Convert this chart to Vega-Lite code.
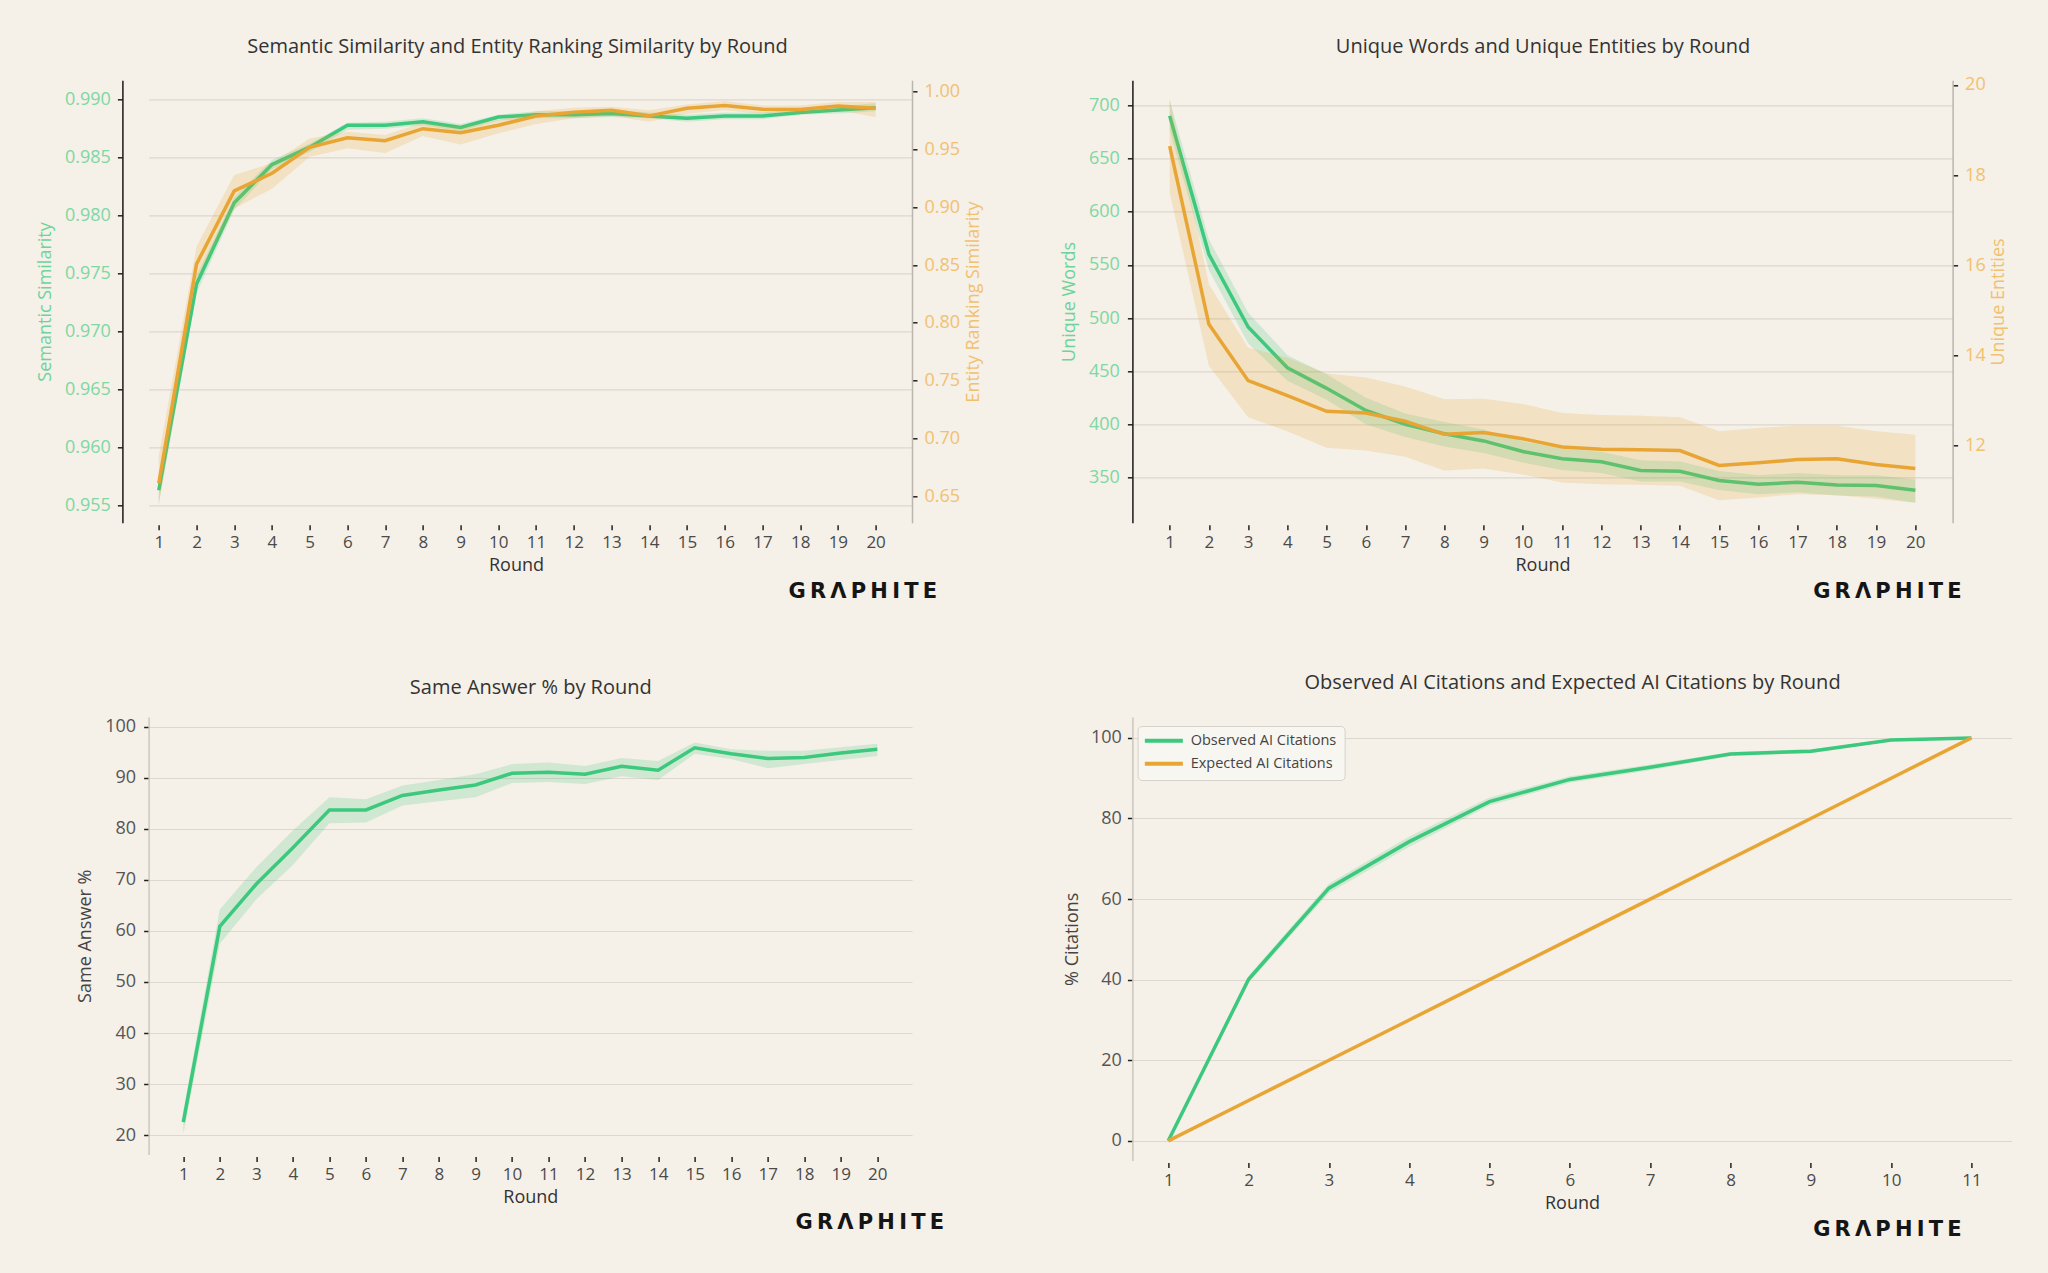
{
  "$schema": "https://vega.github.io/schema/vega-lite/v6.json",
  "autosize": {"type": "none"},
  "padding": {"left": 148.6, "top": 80.3, "right": 1899.4, "bottom": 1192.7},
  "background": "#f5f0e8",
  "columns": 2,
  "bounds": "flush",
  "spacing": {"row": 193.7, "column": 219.8},
  "resolve": {"scale": {"color": "independent"}, "legend": {"color": "independent"}},
  "datasets": {
    "tl": [
      {"round": 1, "sem": 0.9563, "sem_lo": 0.9551, "sem_hi": 0.9575, "ers": 0.6612, "ers_lo": 0.643, "ers_hi": 0.685},
      {"round": 2, "sem": 0.9741, "sem_lo": 0.9733, "sem_hi": 0.9748, "ers": 0.8509, "ers_lo": 0.837, "ers_hi": 0.866},
      {"round": 3, "sem": 0.9811, "sem_lo": 0.9805, "sem_hi": 0.9816, "ers": 0.9141, "ers_lo": 0.899, "ers_hi": 0.928},
      {"round": 4, "sem": 0.9844, "sem_lo": 0.984, "sem_hi": 0.9848, "ers": 0.9294, "ers_lo": 0.916, "ers_hi": 0.938},
      {"round": 5, "sem": 0.9859, "sem_lo": 0.9855, "sem_hi": 0.9862, "ers": 0.9518, "ers_lo": 0.9438, "ers_hi": 0.9596},
      {"round": 6, "sem": 0.9878, "sem_lo": 0.9874, "sem_hi": 0.988, "ers": 0.9602, "ers_lo": 0.951, "ers_hi": 0.9654},
      {"round": 7, "sem": 0.9878, "sem_lo": 0.9875, "sem_hi": 0.9881, "ers": 0.9576, "ers_lo": 0.947, "ers_hi": 0.9625},
      {"round": 8, "sem": 0.9881, "sem_lo": 0.9878, "sem_hi": 0.9884, "ers": 0.968, "ers_lo": 0.9616, "ers_hi": 0.9732},
      {"round": 9, "sem": 0.9876, "sem_lo": 0.9873, "sem_hi": 0.9879, "ers": 0.9645, "ers_lo": 0.9544, "ers_hi": 0.9697},
      {"round": 10, "sem": 0.9885, "sem_lo": 0.9882, "sem_hi": 0.9887, "ers": 0.9709, "ers_lo": 0.964, "ers_hi": 0.9755},
      {"round": 11, "sem": 0.9887, "sem_lo": 0.9884, "sem_hi": 0.989, "ers": 0.979, "ers_lo": 0.972, "ers_hi": 0.983},
      {"round": 12, "sem": 0.9887, "sem_lo": 0.9884, "sem_hi": 0.989, "ers": 0.9822, "ers_lo": 0.977, "ers_hi": 0.986},
      {"round": 13, "sem": 0.9888, "sem_lo": 0.9885, "sem_hi": 0.9891, "ers": 0.9839, "ers_lo": 0.979, "ers_hi": 0.987},
      {"round": 14, "sem": 0.9886, "sem_lo": 0.9884, "sem_hi": 0.9889, "ers": 0.9791, "ers_lo": 0.974, "ers_hi": 0.984},
      {"round": 15, "sem": 0.9884, "sem_lo": 0.9881, "sem_hi": 0.9887, "ers": 0.9856, "ers_lo": 0.981, "ers_hi": 0.989},
      {"round": 16, "sem": 0.9886, "sem_lo": 0.9883, "sem_hi": 0.9889, "ers": 0.988, "ers_lo": 0.984, "ers_hi": 0.992},
      {"round": 17, "sem": 0.9886, "sem_lo": 0.9883, "sem_hi": 0.9889, "ers": 0.9849, "ers_lo": 0.981, "ers_hi": 0.988},
      {"round": 18, "sem": 0.9889, "sem_lo": 0.9887, "sem_hi": 0.9892, "ers": 0.9846, "ers_lo": 0.981, "ers_hi": 0.988},
      {"round": 19, "sem": 0.9891, "sem_lo": 0.9888, "sem_hi": 0.9894, "ers": 0.9877, "ers_lo": 0.984, "ers_hi": 0.991},
      {"round": 20, "sem": 0.9893, "sem_lo": 0.989, "sem_hi": 0.9897, "ers": 0.9856, "ers_lo": 0.978, "ers_hi": 0.991}
    ],
    "tr": [
      {"round": 1, "words": 690.3, "w_lo": 677, "w_hi": 705, "ent": 18.64, "e_lo": 17.6, "e_hi": 19.69},
      {"round": 2, "words": 560, "w_lo": 545, "w_hi": 574, "ent": 14.69, "e_lo": 13.77, "e_hi": 15.57},
      {"round": 3, "words": 491.5, "w_lo": 476, "w_hi": 505, "ent": 13.44, "e_lo": 12.63, "e_hi": 14.17},
      {"round": 4, "words": 453.2, "w_lo": 441, "w_hi": 465, "ent": 13.11, "e_lo": 12.32, "e_hi": 13.95},
      {"round": 5, "words": 433.8, "w_lo": 423, "w_hi": 447, "ent": 12.76, "e_lo": 11.95, "e_hi": 13.6},
      {"round": 6, "words": 413, "w_lo": 400, "w_hi": 425, "ent": 12.72, "e_lo": 11.89, "e_hi": 13.51},
      {"round": 7, "words": 400, "w_lo": 388, "w_hi": 410, "ent": 12.54, "e_lo": 11.75, "e_hi": 13.31},
      {"round": 8, "words": 391, "w_lo": 379, "w_hi": 402, "ent": 12.25, "e_lo": 11.45, "e_hi": 13.03},
      {"round": 9, "words": 384.3, "w_lo": 373, "w_hi": 395, "ent": 12.29, "e_lo": 11.49, "e_hi": 13.04},
      {"round": 10, "words": 374.3, "w_lo": 364, "w_hi": 384, "ent": 12.15, "e_lo": 11.36, "e_hi": 12.92},
      {"round": 11, "words": 367.6, "w_lo": 357, "w_hi": 377, "ent": 11.97, "e_lo": 11.18, "e_hi": 12.72},
      {"round": 12, "words": 364.6, "w_lo": 354, "w_hi": 374, "ent": 11.92, "e_lo": 11.14, "e_hi": 12.68},
      {"round": 13, "words": 356.4, "w_lo": 346, "w_hi": 366, "ent": 11.91, "e_lo": 11.13, "e_hi": 12.66},
      {"round": 14, "words": 355.7, "w_lo": 346, "w_hi": 365, "ent": 11.89, "e_lo": 11.11, "e_hi": 12.63},
      {"round": 15, "words": 347.1, "w_lo": 338, "w_hi": 356, "ent": 11.56, "e_lo": 10.79, "e_hi": 12.32},
      {"round": 16, "words": 343.4, "w_lo": 334, "w_hi": 352, "ent": 11.62, "e_lo": 10.85, "e_hi": 12.39},
      {"round": 17, "words": 345.3, "w_lo": 336, "w_hi": 354, "ent": 11.69, "e_lo": 10.92, "e_hi": 12.44},
      {"round": 18, "words": 342.7, "w_lo": 333, "w_hi": 352, "ent": 11.71, "e_lo": 10.9, "e_hi": 12.44},
      {"round": 19, "words": 342.3, "w_lo": 332, "w_hi": 352, "ent": 11.58, "e_lo": 10.82, "e_hi": 12.32},
      {"round": 20, "words": 337.8, "w_lo": 326, "w_hi": 348, "ent": 11.49, "e_lo": 10.73, "e_hi": 12.24}
    ],
    "bl": [
      {"round": 1, "same": 22.55, "lo": 20.2, "hi": 24.7},
      {"round": 2, "same": 60.9, "lo": 57.5, "hi": 64.2},
      {"round": 3, "same": 69.2, "lo": 66.2, "hi": 72.5},
      {"round": 4, "same": 76.3, "lo": 72.9, "hi": 79.7},
      {"round": 5, "same": 83.7, "lo": 81.1, "hi": 86.2},
      {"round": 6, "same": 83.7, "lo": 81.25, "hi": 85.8},
      {"round": 7, "same": 86.55, "lo": 84.6, "hi": 88.5},
      {"round": 8, "same": 87.6, "lo": 85.4, "hi": 89.6},
      {"round": 9, "same": 88.6, "lo": 86.2, "hi": 90.7},
      {"round": 10, "same": 90.9, "lo": 89.0, "hi": 92.7},
      {"round": 11, "same": 91.1, "lo": 89.2, "hi": 93.0},
      {"round": 12, "same": 90.7, "lo": 88.8, "hi": 92.3},
      {"round": 13, "same": 92.25, "lo": 90.3, "hi": 93.9},
      {"round": 14, "same": 91.5, "lo": 89.6, "hi": 93.3},
      {"round": 15, "same": 95.9, "lo": 94.7, "hi": 96.9},
      {"round": 16, "same": 94.7, "lo": 93.7, "hi": 95.6},
      {"round": 17, "same": 93.8, "lo": 91.9, "hi": 95.3},
      {"round": 18, "same": 94.0, "lo": 92.7, "hi": 95.3},
      {"round": 19, "same": 94.85, "lo": 93.5, "hi": 96.0},
      {"round": 20, "same": 95.6, "lo": 94.3, "hi": 96.7}
    ],
    "br_band": [
      {"round": 1, "lo": 0, "hi": 0.3},
      {"round": 2, "lo": 39.3, "hi": 41.0},
      {"round": 3, "lo": 61.5, "hi": 63.8},
      {"round": 4, "lo": 73.0, "hi": 75.5},
      {"round": 5, "lo": 83.2, "hi": 85.2},
      {"round": 6, "lo": 88.9, "hi": 90.5},
      {"round": 7, "lo": 92.0, "hi": 93.4},
      {"round": 8, "lo": 95.5, "hi": 96.5},
      {"round": 9, "lo": 96.2, "hi": 97.2},
      {"round": 10, "lo": 99.2, "hi": 99.8},
      {"round": 11, "lo": 100, "hi": 100}
    ],
    "br_lines": [
      {"round": 1, "series": "Observed AI Citations", "pct": 0},
      {"round": 2, "series": "Observed AI Citations", "pct": 40.1},
      {"round": 3, "series": "Observed AI Citations", "pct": 62.7},
      {"round": 4, "series": "Observed AI Citations", "pct": 74.25},
      {"round": 5, "series": "Observed AI Citations", "pct": 84.2},
      {"round": 6, "series": "Observed AI Citations", "pct": 89.7},
      {"round": 7, "series": "Observed AI Citations", "pct": 92.7},
      {"round": 8, "series": "Observed AI Citations", "pct": 96.0},
      {"round": 9, "series": "Observed AI Citations", "pct": 96.7},
      {"round": 10, "series": "Observed AI Citations", "pct": 99.5},
      {"round": 11, "series": "Observed AI Citations", "pct": 100},
      {"round": 1, "series": "Expected AI Citations", "pct": 0},
      {"round": 2, "series": "Expected AI Citations", "pct": 10},
      {"round": 3, "series": "Expected AI Citations", "pct": 20},
      {"round": 4, "series": "Expected AI Citations", "pct": 30},
      {"round": 5, "series": "Expected AI Citations", "pct": 40},
      {"round": 6, "series": "Expected AI Citations", "pct": 50},
      {"round": 7, "series": "Expected AI Citations", "pct": 60},
      {"round": 8, "series": "Expected AI Citations", "pct": 70},
      {"round": 9, "series": "Expected AI Citations", "pct": 80},
      {"round": 10, "series": "Expected AI Citations", "pct": 90},
      {"round": 11, "series": "Expected AI Citations", "pct": 100}
    ]
  },
  "concat": [
    {
      "width": 763.4,
      "height": 442.4,
      "title": {"text": "G\u2009R\u2009\u039b\u2009P\u2009H\u2009I\u2009T\u2009E", "dx": 25},
      "data": {"name": "tl"},
      "encoding": {
        "x": {"field": "round", "type": "quantitative", "scale": {"domain": [0.7296, 20.965], "nice": false, "zero": false},
          "axis": {"values": [1,2,3,4,5,6,7,8,9,10,11,12,13,14,15,16,17,18,19,20], "format": "d", "title": "Round", "titleX": 367.4, "domain": false, "grid": false, "offset": 2, "labelPadding": 5, "labelFontSize": 17, "labelColor": "#4a4a4a", "titleFontSize": 18, "titleColor": "#333333", "titlePadding": 6}}
      },
      "layer": [
        {
          "layer": [
            {"mark": {"type": "area", "color": "#3cc87d", "opacity": 0.2},
             "encoding": {"y": {"field": "sem_lo", "type": "quantitative", "scale": {"domain": [0.9535, 0.99167], "nice": false, "zero": false},
               "axis": {"orient": "left", "values": [0.955, 0.96, 0.965, 0.97, 0.975, 0.98, 0.985, 0.99], "format": ".3f", "title": "Semantic Similarity", "offset": 26.2, "grid": true, "domainColor": "#1a1a1a", "labelColor": "#7dd8a3", "titleColor": "#6dd49a", "labelFontSize": 18, "titleFontSize": 18, "labelPadding": 7, "titlePadding": 10}},
               "y2": {"field": "sem_hi"}}},
            {"mark": {"type": "line", "color": "#3cc87d", "strokeWidth": 3.5},
             "encoding": {"y": {"field": "sem", "type": "quantitative", "scale": {"domain": [0.9535, 0.99167], "nice": false, "zero": false},
               "axis": {"orient": "left", "values": [0.955, 0.96, 0.965, 0.97, 0.975, 0.98, 0.985, 0.99], "format": ".3f", "title": "Semantic Similarity", "offset": 26.2, "grid": true, "domainColor": "#1a1a1a", "labelColor": "#7dd8a3", "titleColor": "#6dd49a", "labelFontSize": 18, "titleFontSize": 18, "labelPadding": 7, "titlePadding": 10}}}}
          ]
        },
        {
          "encoding": {
            "x": {"field": "round", "type": "quantitative", "scale": {"domain": [0.7296, 20.965], "nice": false, "zero": false},
              "axis": {"orient": "top", "title": "Semantic Similarity and Entity Ranking Similarity by Round", "titleX": 368.4, "labels": false, "ticks": false, "domain": false, "grid": false, "minExtent": 0, "titleFontSize": 20, "titleColor": "#333333", "titlePadding": 23.5}}
          },
          "layer": [
            {"mark": {"type": "area", "color": "#e8a534", "opacity": 0.2},
             "encoding": {"y": {"field": "ers_lo", "type": "quantitative", "scale": {"domain": [0.627, 1.00986], "nice": false, "zero": false},
               "axis": {"orient": "right", "values": [0.65, 0.7, 0.75, 0.8, 0.85, 0.9, 0.95, 1.0], "format": ".2f", "title": "Entity Ranking Similarity", "grid": false, "domainColor": "#bab6ae", "labelColor": "#f1c170", "titleColor": "#f1c170", "labelFontSize": 18, "titleFontSize": 18, "labelPadding": 7, "titlePadding": 5, "titleAngle": 270, "titleBaseline": "top"}},
               "y2": {"field": "ers_hi"}}},
            {"mark": {"type": "line", "color": "#e8a534", "strokeWidth": 3.5},
             "encoding": {"y": {"field": "ers", "type": "quantitative", "scale": {"domain": [0.627, 1.00986], "nice": false, "zero": false},
               "axis": {"orient": "right", "values": [0.65, 0.7, 0.75, 0.8, 0.85, 0.9, 0.95, 1.0], "format": ".2f", "title": "Entity Ranking Similarity", "grid": false, "domainColor": "#bab6ae", "labelColor": "#f1c170", "titleColor": "#f1c170", "labelFontSize": 18, "titleFontSize": 18, "labelPadding": 7, "titlePadding": 5, "titleAngle": 270, "titleBaseline": "top"}}}}
          ]
        }
      ],
      "resolve": {"scale": {"y": "independent"}, "axis": {"x": "independent"}}
    },
    {
      "width": 820.2,
      "height": 442.4,
      "title": {"text": "G\u2009R\u2009\u039b\u2009P\u2009H\u2009I\u2009T\u2009E", "dx": 9},
      "data": {"name": "tr"},
      "encoding": {
        "x": {"field": "round", "type": "quantitative", "scale": {"domain": [0.05, 20.95], "nice": false, "zero": false},
          "axis": {"values": [1,2,3,4,5,6,7,8,9,10,11,12,13,14,15,16,17,18,19,20], "format": "d", "title": "Round", "domain": false, "grid": false, "offset": 2, "labelPadding": 5, "labelFontSize": 17, "labelColor": "#4a4a4a", "titleFontSize": 18, "titleColor": "#333333", "titlePadding": 6}}
      },
      "layer": [
        {
          "layer": [
            {"mark": {"type": "area", "color": "#3cc87d", "opacity": 0.2},
             "encoding": {"y": {"field": "w_lo", "type": "quantitative", "scale": {"domain": [307.3, 723.8], "nice": false, "zero": false},
               "axis": {"orient": "left", "values": [350, 400, 450, 500, 550, 600, 650, 700], "format": "d", "title": "Unique Words", "grid": true, "domainColor": "#1a1a1a", "labelColor": "#7dd8a3", "titleColor": "#6dd49a", "labelFontSize": 18, "titleFontSize": 18, "labelPadding": 8, "titlePadding": 10}},
               "y2": {"field": "w_hi"}}},
            {"mark": {"type": "line", "color": "#3cc87d", "strokeWidth": 3.5},
             "encoding": {"y": {"field": "words", "type": "quantitative", "scale": {"domain": [307.3, 723.8], "nice": false, "zero": false},
               "axis": {"orient": "left", "values": [350, 400, 450, 500, 550, 600, 650, 700], "format": "d", "title": "Unique Words", "grid": true, "domainColor": "#1a1a1a", "labelColor": "#7dd8a3", "titleColor": "#6dd49a", "labelFontSize": 18, "titleFontSize": 18, "labelPadding": 8, "titlePadding": 10}}}}
          ]
        },
        {
          "encoding": {
            "x": {"field": "round", "type": "quantitative", "scale": {"domain": [0.05, 20.95], "nice": false, "zero": false},
              "axis": {"orient": "top", "title": "Unique Words and Unique Entities by Round", "labels": false, "ticks": false, "domain": false, "grid": false, "minExtent": 0, "titleFontSize": 20, "titleColor": "#333333", "titlePadding": 23.5}}
          },
          "layer": [
            {"mark": {"type": "area", "color": "#e8a534", "opacity": 0.2},
             "encoding": {"y": {"field": "e_lo", "type": "quantitative", "scale": {"domain": [10.29, 20.1], "nice": false, "zero": false},
               "axis": {"orient": "right", "values": [12, 14, 16, 18, 20], "format": "d", "title": "Unique Entities", "grid": false, "domainColor": "#bab6ae", "labelColor": "#f1c170", "titleColor": "#f1c170", "labelFontSize": 18, "titleFontSize": 18, "labelPadding": 7, "titlePadding": 4, "titleAngle": 270, "titleBaseline": "top"}},
               "y2": {"field": "e_hi"}}},
            {"mark": {"type": "line", "color": "#e8a534", "strokeWidth": 3.5},
             "encoding": {"y": {"field": "ent", "type": "quantitative", "scale": {"domain": [10.29, 20.1], "nice": false, "zero": false},
               "axis": {"orient": "right", "values": [12, 14, 16, 18, 20], "format": "d", "title": "Unique Entities", "grid": false, "domainColor": "#bab6ae", "labelColor": "#f1c170", "titleColor": "#f1c170", "labelFontSize": 18, "titleFontSize": 18, "labelPadding": 7, "titlePadding": 4, "titleAngle": 270, "titleBaseline": "top"}}}}
          ]
        }
      ],
      "resolve": {"scale": {"y": "independent"}, "axis": {"x": "independent"}}
    },
    {
      "width": 763.4,
      "height": 437.5,
      "title": {"text": "G\u2009R\u2009\u039b\u2009P\u2009H\u2009I\u2009T\u2009E", "dx": 32, "offset": 5.5},
      "data": {"name": "bl"},
      "layer": [
        {"mark": {"type": "area", "color": "#3cc87d", "opacity": 0.2},
         "encoding": {
           "x": {"field": "round", "type": "quantitative", "scale": {"domain": [0.05, 20.95], "nice": false, "zero": false},
             "axis": {"orient": "top", "title": "Same Answer % by Round", "labels": false, "ticks": false, "domain": false, "grid": false, "minExtent": 0, "titleFontSize": 20, "titleColor": "#333333", "titlePadding": 19.4}},
           "y": {"field": "lo", "type": "quantitative", "scale": {"domain": [16.2, 101.92], "nice": false, "zero": false},
           "axis": {"orient": "left", "values": [20, 30, 40, 50, 60, 70, 80, 90, 100], "format": "d", "title": "Same Answer %", "grid": true, "domainColor": "#cbc7bf", "labelColor": "#555555", "titleColor": "#444444", "labelFontSize": 18, "titleFontSize": 18, "labelPadding": 8, "titlePadding": 10}},
           "y2": {"field": "hi"}}},
        {"mark": {"type": "line", "color": "#3cc87d", "strokeWidth": 3.5},
         "encoding": {
           "x": {"field": "round", "type": "quantitative", "scale": {"domain": [0.05, 20.95], "nice": false, "zero": false},
             "axis": {"values": [1,2,3,4,5,6,7,8,9,10,11,12,13,14,15,16,17,18,19,20], "format": "d", "title": "Round", "domain": false, "grid": false, "offset": 2, "labelPadding": 5, "labelFontSize": 17, "labelColor": "#4a4a4a", "titleFontSize": 18, "titleColor": "#333333", "titlePadding": 6}},
           "y": {"field": "same", "type": "quantitative", "scale": {"domain": [16.2, 101.92], "nice": false, "zero": false},
           "axis": {"orient": "left", "values": [20, 30, 40, 50, 60, 70, 80, 90, 100], "format": "d", "title": "Same Answer %", "grid": true, "domainColor": "#cbc7bf", "labelColor": "#555555", "titleColor": "#444444", "labelFontSize": 18, "titleFontSize": 18, "labelPadding": 8, "titlePadding": 10}}}}
      ],
      "resolve": {"axis": {"x": "independent"}}
    },
    {
      "width": 879.2,
      "height": 443.6,
      "title": {"text": "G\u2009R\u2009\u039b\u2009P\u2009H\u2009I\u2009T\u2009E", "dx": -50},
      "layer": [
        {"data": {"name": "br_band"},
         "mark": {"type": "area", "color": "#3cc87d", "opacity": 0.2},
         "encoding": {
           "x": {"field": "round", "type": "quantitative", "scale": {"domain": [0.553, 11.5], "nice": false, "zero": false},
             "axis": {"orient": "top", "title": "Observed AI Citations and Expected AI Citations by Round", "labels": false, "ticks": false, "domain": false, "grid": false, "minExtent": 0, "titleFontSize": 20, "titleColor": "#333333", "titlePadding": 24.6}},
           "y": {"field": "lo", "type": "quantitative", "scale": {"domain": [-4.91, 105.19], "nice": false, "zero": false},
           "axis": {"orient": "left", "values": [0, 20, 40, 60, 80, 100], "format": "d", "title": "% Citations", "grid": true, "domainColor": "#cbc7bf", "labelColor": "#555555", "titleColor": "#444444", "labelFontSize": 18, "titleFontSize": 18, "labelPadding": 6, "titlePadding": 9}},
           "y2": {"field": "hi"}}},
        {"data": {"name": "br_lines"},
         "mark": {"type": "line", "strokeWidth": 3.5},
         "encoding": {
           "x": {"field": "round", "type": "quantitative", "scale": {"domain": [0.553, 11.5], "nice": false, "zero": false},
             "axis": {"values": [1,2,3,4,5,6,7,8,9,10,11], "format": "d", "title": "Round", "domain": false, "grid": false, "offset": 2, "labelPadding": 5, "labelFontSize": 17, "labelColor": "#4a4a4a", "titleFontSize": 18, "titleColor": "#333333", "titlePadding": 6}},
           "y": {"field": "pct", "type": "quantitative", "scale": {"domain": [-4.91, 105.19], "nice": false, "zero": false},
             "axis": {"orient": "left", "values": [0, 20, 40, 60, 80, 100], "format": "d", "title": "% Citations", "grid": true, "domainColor": "#cbc7bf", "labelColor": "#555555", "titleColor": "#444444", "labelFontSize": 18, "titleFontSize": 18, "labelPadding": 6, "titlePadding": 9}},
           "color": {"field": "series", "type": "nominal",
             "scale": {"domain": ["Observed AI Citations", "Expected AI Citations"], "range": ["#3cc87d", "#e8a534"]},
             "legend": {"title": null, "orient": "none", "legendX": 5.2, "legendY": 9, "symbolType": "M-3.8,0H3.8", "symbolSize": 100, "symbolStrokeWidth": 4, "symbolOffset": 11.6, "labelOffset": 19.6, "labelFontSize": 14.5, "labelFont": "Open Sans", "labelColor": "#444444", "padding": 7.4, "rowPadding": 6, "fillColor": "#f8f6f1", "strokeColor": "#d6d2cb", "cornerRadius": 4}}
         }}
      ],
      "resolve": {"axis": {"x": "independent"}}
    }
  ],
  "config": {
    "font": "Open Sans",
    "view": {"stroke": null},
    "title": {"orient": "bottom", "anchor": "end", "frame": "group", "font": "DejaVu Sans", "fontSize": 21, "fontWeight": "bold", "color": "#151515", "offset": 6.5},
    "axis": {"labelFont": "Open Sans", "titleFont": "Open Sans", "titleFontWeight": "normal", "tickColor": "#222222", "tickWidth": 1.5, "tickSize": 5, "domainWidth": 1.5, "gridColor": "#dcd7cf", "gridWidth": 1.2, "labelOverlap": false, "labelFlush": false}
  }
}
